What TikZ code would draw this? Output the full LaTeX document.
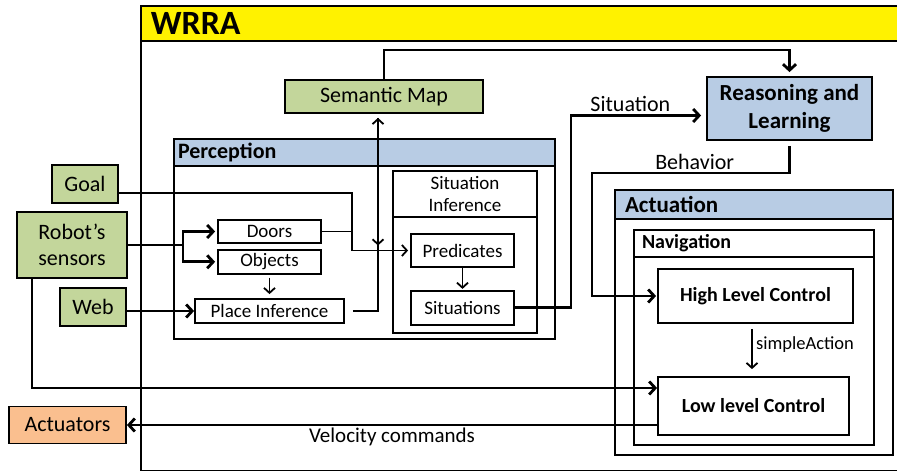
\documentclass[tikz,border=0pt]{standalone}
\usepackage{fontspec}
\setmainfont{Carlito}
\usetikzlibrary{shapes,arrows.meta,positioning,calc}

\definecolor{inputgreen}{RGB}{195,214,155}
\definecolor{headblue}{RGB}{184,204,228}
\definecolor{actorange}{RGB}{250,191,143}
\definecolor{wrrayellow}{RGB}{255,242,0}

\begin{document}
\begin{tikzpicture}[
    x=1pt, y=-1pt,
    box/.style={rectangle, draw, line width=1.8pt, fill=white, align=center, inner sep=1pt, font=\fontsize{19}{22}\selectfont},
    gbox/.style={box, fill=inputgreen, font=\fontsize{22}{26}\selectfont},
    obox/.style={box, fill=actorange, font=\fontsize{22}{26}\selectfont},
    bbox/.style={box, fill=headblue, font=\bfseries\fontsize{23}{28}\selectfont},
    cbox/.style={box, font=\bfseries\fontsize{20}{24}\selectfont},
    frame/.style={rectangle, draw, line width=1.8pt, fill=white, inner sep=0pt},
    header/.style={rectangle, draw, line width=1.8pt, fill=headblue, align=left, inner xsep=4pt, inner ysep=0pt, font=\bfseries\fontsize{22}{26}\selectfont},
    line/.style={draw, line width=2.8pt, -{Straight Barb[length=6pt,width=13pt]}},
    sline/.style={draw, line width=1.8pt, -{Straight Barb[length=5pt,width=11pt]}},
    plain/.style={draw, line width=2.8pt},
    lbl/.style={font=\fontsize{22}{26}\selectfont, inner sep=2pt}
]
\useasboundingbox (0,0) rectangle (897,471);

% ----------------------------
% Containers
% ----------------------------
\node[frame, line width=1.5pt, minimum width=765pt, minimum height=465pt, anchor=north west] (wrra) at (140,5) {};
\node[header, fill=wrrayellow, anchor=north west, minimum height=35pt, text width=745pt, inner xsep=10pt, font=\bfseries\fontsize{34}{40}\selectfont] (wrrahead) at (140,5) {WRRA};

\node[frame, minimum width=381pt, minimum height=200pt] (perception) at (364.5,239) {};
\node[header, anchor=north, minimum height=27pt, text width=373pt] (perchead) at (perception.north) {Perception};

\node[frame, minimum width=144pt, minimum height=162pt] (sitinf) at (465,252) {};
\node[header, fill=white, anchor=north, minimum height=46pt, text width=136pt, align=center, font=\fontsize{19}{22}\selectfont] (sitinfhead) at (sitinf.north) {Situation\\Inference};

\node[frame, minimum width=278pt, minimum height=265pt] (actuation) at (754,322.5) {};
\node[header, anchor=north, minimum height=29pt, text width=258pt, inner xsep=10pt, font=\bfseries\fontsize{23}{28}\selectfont] (acthead) at (actuation.north) {Actuation};

\node[frame, minimum width=240pt, minimum height=215pt] (navigation) at (754,337.5) {};
\node[header, fill=white, anchor=north, minimum height=27pt, text width=224pt, inner xsep=8pt, font=\bfseries\fontsize{20}{24}\selectfont] (navhead) at (navigation.north) {Navigation};

% ----------------------------
% Nodes
% ----------------------------
\node[gbox, minimum width=66pt, minimum height=38pt] (goal) at (85,184) {Goal};
\node[gbox, minimum width=110pt, minimum height=66pt] (sensors) at (72,245) {Robot’s\\sensors};
\node[gbox, minimum width=66pt, minimum height=38pt] (web) at (93,307) {Web};
\node[obox, minimum width=117pt, minimum height=37pt] (actuators) at (67.5,425) {Actuators};

\node[gbox, minimum width=198pt, minimum height=33pt] (semmap) at (384,96.5) {Semantic Map};
\node[bbox, minimum width=165pt, minimum height=63pt] (reasoning) at (789.5,108.5) {Reasoning and\\Learning};

\node[box, minimum width=103pt, minimum height=23pt] (doors) at (269.5,231.5) {Doors};
\node[box, minimum width=103pt, minimum height=24pt, below=5pt of doors] (objects) {Objects};
\node[box, minimum width=149pt, minimum height=24pt] (place) at (269.5,311) {Place Inference};

\node[box, minimum width=103pt, minimum height=33pt] (predicates) at (462.5,250.5) {Predicates};
\node[box, minimum width=103pt, minimum height=34pt, below=22pt of predicates] (situations) {Situations};

\node[cbox, minimum width=195pt, minimum height=54pt] (hlc) at (755.5,296) {High Level Control};
\node[cbox, minimum width=191pt, minimum height=58pt] (llc) at (753.5,406) {Low level Control};

% bends
\coordinate (toprail) at (0,50);
\coordinate (split) at (183,245);
\coordinate (mergex) at (352,0);
\coordinate (merge) at (predicates.west -| mergex);
\coordinate (mapx) at (378,0);
\coordinate (mapfoot) at (semmap.south -| mapx);
\coordinate (behbend) at (592,173);
\coordinate (actx) at (752,0);

% ----------------------------
% Edges
% ----------------------------
\draw[line, shorten >=4pt] (semmap.north) -- (semmap.north |- toprail) -| (reasoning.north);
\draw[line, shorten >=5pt] (situations.east) -- ++(56,0) |- node[lbl, above, pos=0.72] {Situation} ([yshift=-7pt]reasoning.west);
\draw[line, shorten >=1pt] ([yshift=-5pt]reasoning.south) |- node[lbl, above, pos=0.74] {Behavior} (behbend) |- (hlc.west);

% inputs
\draw[plain] (sensors.east) -- (split);
\draw[line, shorten >=2pt] (split) |- (doors.west);
\draw[line, shorten >=2pt] (split) |- (objects.west);
\draw[line] (web.east |- place.west) -- (place.west);
\draw[sline, -] ([yshift=-9pt]goal.east) -| (merge);
\draw[sline, -] (doors.east) -| (merge);
\draw[sline, shorten >=2pt] (merge) -- (predicates.west);

% perception internals
\draw[sline, shorten <=3pt, shorten >=4pt] (objects) -- (place);
\draw[sline, shorten >=4pt] ([xshift=8pt]place.east) -| (mapfoot);
\draw[sline, shorten <=4pt, shorten >=5pt] (mapfoot) -- (mapfoot |- merge);
\draw[sline, shorten >=1pt] (predicates) -- (situations);

% actuation
\draw[sline, shorten <=5pt, shorten >=7pt] (hlc.south -| actx) -- node[right, pos=0.4, font=\fontsize{18.5}{22}\selectfont] {simpleAction} (llc.north -| actx);
\draw[line] ([xshift=-40pt]sensors.south) |- ([yshift=18pt]llc.west);
\draw[line] ([yshift=-19pt]llc.west) -- node[lbl, below, font=\fontsize{21}{25}\selectfont] {Velocity commands} (actuators.east);

\end{tikzpicture}
\end{document}
